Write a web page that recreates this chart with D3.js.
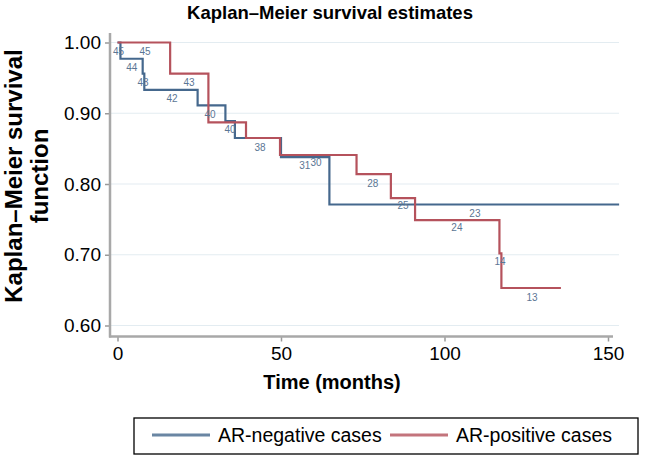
<!DOCTYPE html>
<html><head><meta charset="utf-8">
<script src="https://cdn.jsdelivr.net/npm/d3@7"></script>
<style>
html,body{margin:0;padding:0;background:#fff;}
svg{display:block;font-family:"Liberation Sans",Arial,sans-serif;}
</style></head>
<body>
<svg id="chart" width="652" height="456"></svg>
<script>
const seriesNames = ["AR-negative cases", "AR-positive cases"];
const negTimes = [0, 0.9, 7.7, 8.2, 24.5, 33.0, 35.9, 50.0, 64.8, 153.4];
const negSurv  = [1.00, 0.977, 0.956, 0.933, 0.911, 0.889, 0.865, 0.838, 0.771, 0.771];
const posTimes = [0, 16.1, 27.8, 39.3, 49.7, 73.1, 83.6, 91.0, 116.8, 117.4, 135.6];
const posSurv  = [1.00, 0.956, 0.887, 0.865, 0.841, 0.814, 0.780, 0.749, 0.702, 0.653, 0.653];
const riskText  = ["45","45","44","43","43","42","40","40","38","31","30","28","25","23","24","14","13"];
const riskTimes = [0.3, 8.4, 4.4, 7.8, 21.9, 16.7, 28.3, 34.4, 43.6, 57.3, 60.7, 78.1, 87.3, 109.3, 103.8, 117.0, 126.8];
const riskSurv  = [0.987, 0.987, 0.965, 0.944, 0.944, 0.921, 0.898, 0.877, 0.852, 0.826, 0.831, 0.801, 0.770, 0.758, 0.739, 0.691, 0.640];
const xTicks = [0, 50, 100, 150];
const yTicks = [0.60, 0.70, 0.80, 0.90, 1.00];

const colors = ["#45688d", "#b5525c"];
const svg = d3.select("#chart");
const x = d3.scaleLinear().domain([0, 150]).range([117.5, 608]);
const y = d3.scaleLinear().domain([0.6, 1.0]).range([325.5, 42.5]);
const plotL = 110, plotR = 619, plotT = 33, plotB = 336.5;

// gridlines
svg.append("g").selectAll("line").data(yTicks).join("line")
  .attr("x1", plotL).attr("x2", plotR)
  .attr("y1", d => y(d)).attr("y2", d => y(d))
  .attr("stroke", "#e3ecf1").attr("stroke-width", 1.2);

// axes
const yAxis = svg.append("g").attr("transform", `translate(${plotL},0)`)
  .call(d3.axisLeft(y).tickValues(yTicks).tickFormat(d3.format(".2f")).tickSize(5).tickPadding(4));
const xAxis = svg.append("g").attr("transform", `translate(0,${plotB})`)
  .call(d3.axisBottom(x).tickValues(xTicks).tickSize(5).tickPadding(5));
[yAxis, xAxis].forEach(g => {
  g.select(".domain").remove();
  g.selectAll(".tick line").attr("stroke", "#9a9a9a").attr("stroke-width", 1.5);
  g.selectAll(".tick text").attr("fill", "#000").style("font-size", "19px")
    .style("font-family", '"Liberation Sans",Arial,sans-serif');
});
svg.append("line").attr("x1", plotL).attr("x2", plotL).attr("y1", plotT).attr("y2", plotB + 1)
  .attr("stroke", "#a8a8a8").attr("stroke-width", 2.5);
svg.append("line").attr("x1", plotL - 1).attr("x2", 613).attr("y1", plotB).attr("y2", plotB)
  .attr("stroke", "#a8a8a8").attr("stroke-width", 2.5);

// curves
const line = d3.line().x(d => x(d[0])).y(d => y(d[1])).curve(d3.curveStepAfter);
const series = [d3.zip(negTimes, negSurv), d3.zip(posTimes, posSurv)];
svg.append("g").selectAll("path").data(series).join("path")
  .attr("d", line).attr("fill", "none")
  .attr("stroke", (d, i) => colors[i]).attr("stroke-width", 2.2);

// number at risk labels
svg.append("g").selectAll("text").data(riskText).join("text")
  .attr("x", (d, i) => x(riskTimes[i])).attr("y", (d, i) => y(riskSurv[i]))
  .attr("text-anchor", "middle").attr("dy", "0.35em")
  .style("font-size", "10px").attr("fill", "#5b7694").text(d => d);

// titles
svg.append("text").attr("x", 330).attr("y", 19).attr("text-anchor", "middle")
  .style("font-size", "18.5px").style("font-weight", "bold").text("Kaplan–Meier survival estimates");
svg.append("text").attr("x", 332).attr("y", 389).attr("text-anchor", "middle")
  .style("font-size", "20px").style("font-weight", "bold").text("Time (months)");
const yt = svg.append("text").attr("transform", "translate(0,176) rotate(-90)")
  .attr("text-anchor", "middle").style("font-size", "24px").style("font-weight", "bold");
yt.append("tspan").attr("x", 0).attr("y", 22).text("Kaplan–Meier survival");
yt.append("tspan").attr("x", 0).attr("y", 48).text("function");

// legend
const lg = svg.append("g");
lg.append("rect").attr("x", 134).attr("y", 418).attr("width", 504).attr("height", 36)
  .attr("fill", "#fff").attr("stroke", "#000").attr("stroke-width", 1.3);
const legX = [152, 390];
seriesNames.forEach((n, i) => {
  lg.append("line").attr("x1", legX[i]).attr("x2", legX[i] + 58).attr("y1", 435).attr("y2", 435)
    .attr("stroke", colors[i]).attr("stroke-width", 3).attr("opacity", 0.8);
  lg.append("text").attr("x", legX[i] + 66).attr("y", 442).style("font-size", "19.5px").text(n);
});
</script>
</body></html>
